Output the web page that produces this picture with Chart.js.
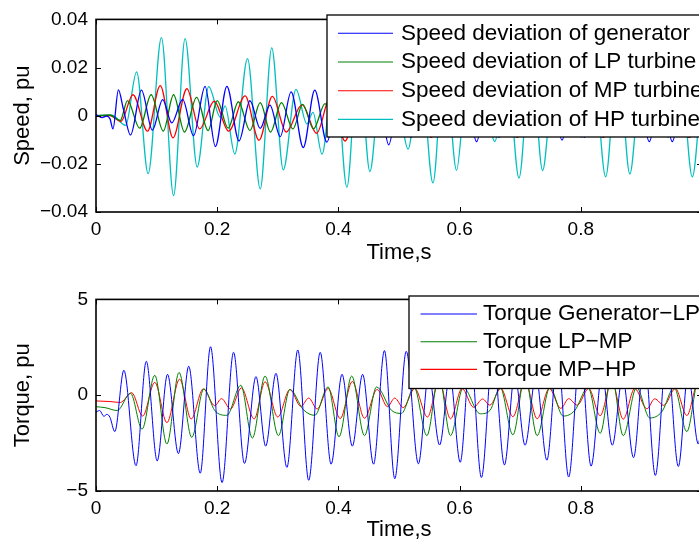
<!DOCTYPE html>
<html>
<head>
<meta charset="utf-8">
<script src="https://cdn.jsdelivr.net/npm/chart.js@4.4.1/dist/chart.umd.min.js"></script>
<style>
  html, body { margin: 0; padding: 0; background: #fff; overflow: hidden; }
  body { width: 699px; height: 544px; position: relative; }
  canvas { position: absolute; left: 0; }
  #speedChart { top: 0; }
  #torqueChart { top: 280px; }
</style>
</head>
<body>
<canvas id="speedChart" width="720" height="272"></canvas>
<canvas id="torqueChart" width="720" height="264"></canvas>
<script>
// Axis ticks (the label at t = 1 falls just outside the cropped figure)
const timeTicks = [0, 0.2, 0.4, 0.6, 0.8, 1];
const timeTickLabels = ['0', '0.2', '0.4', '0.6', '0.8', ''];
const speedTicks = [-0.04, -0.02, 0, 0.02, 0.04];
const speedTickLabels = ['\u22120.04', '\u22120.02', '0', '0.02', '0.04'];
const torqueTicks = [-5, 0, 5];
const torqueTickLabels = ['\u22125', '0', '5'];

const speedNames = ['Speed deviation of generator', 'Speed deviation of LP turbine',
  'Speed deviation of MP turbine', 'Speed deviation of HP turbine'];
const torqueNames = ['Torque Generator\u2212LP', 'Torque LP\u2212MP', 'Torque MP\u2212HP'];

// [time s, pu] - peaks and troughs
const speedGen = [[0,0.0005],[0.010,-0.0008],[0.017,-0.0002],[0.023,-0.0012],[0.028,-0.0055],[0.037,0.0107],
  [0.045,0.003],[0.057,-0.008],[0.075,0.0106],[0.093,-0.006],[0.110,0.0067],[0.125,-0.003],[0.143,0.0068],
  [0.161,-0.0083],[0.180,0.0122],[0.197,-0.0128],[0.216,0.0122],[0.236,-0.0105],[0.254,0.0062],[0.271,-0.0053],
  [0.287,0.0044],[0.304,-0.0087],[0.322,0.0099],[0.342,-0.0132],[0.361,0.0106],[0.381,-0.011],[0.399,0.007],
  [0.416,-0.006],[0.433,0.004],[0.450,-0.007],[0.466,0.009],[0.483,-0.0121],[0.502,0.011],[0.520,-0.009],
  [0.538,0.010],[0.556,-0.006],[0.574,0.005],[0.592,-0.006],[0.611,0.008],[0.628,-0.0108],[0.647,0.011],
  [0.665,-0.009],[0.683,0.010],[0.700,-0.006],[0.718,0.005],[0.735,-0.006],[0.752,0.008],[0.769,-0.0101],
  [0.788,0.011],[0.806,-0.009],[0.825,0.010],[0.843,-0.006],[0.860,0.005],[0.878,-0.007],[0.895,0.009],
  [0.913,-0.0108],[0.932,0.011],[0.951,-0.0108],[0.969,0.010],[0.987,-0.007],[1.0,0.002]];

const speedLP = [[0,0],[0.023,0.0003],[0.040,-0.002],[0.052,0.0063],[0.072,-0.0052],[0.091,0.0087],
  [0.111,-0.0064],[0.128,0.0087],[0.146,-0.0068],[0.166,0.0076],[0.185,-0.0062],[0.200,0.0063],[0.218,-0.0052],
  [0.235,0.0058],[0.254,-0.0062],[0.271,0.0054],[0.288,-0.0068],[0.306,0.0054],[0.325,-0.0055],[0.341,0.0047],
  [0.359,-0.0055],[0.378,0.005],[0.396,-0.006],[0.414,0.006],[0.432,-0.006],[0.450,0.006],[0.469,-0.0065],
  [0.487,0.0055],[0.505,-0.006],[0.523,0.006],[0.541,-0.006],[0.559,0.0065],[0.578,-0.0065],[0.596,0.006],
  [0.614,-0.006],[0.632,0.0055],[0.650,-0.006],[0.668,0.006],[0.686,-0.006],[0.705,0.0065],[0.723,-0.0065],
  [0.741,0.006],[0.759,-0.006],[0.777,0.0055],[0.795,-0.006],[0.814,0.006],[0.832,-0.006],[0.850,0.0065],
  [0.868,-0.0065],[0.886,0.006],[0.904,-0.006],[0.922,0.0055],[0.941,-0.006],[0.959,0.006],[0.977,-0.006],
  [0.995,0.0065],[1.0,0.005]];

const speedMP = [[0,0],[0.023,0],[0.041,-0.0024],[0.061,0.0087],[0.085,-0.0064],[0.106,0.0125],[0.127,-0.0092],
  [0.150,0.0112],[0.171,-0.0055],[0.195,0.006],[0.219,-0.0064],[0.246,0.0082],[0.269,-0.0102],[0.291,0.008],
  [0.314,-0.0068],[0.340,0.0046],[0.364,-0.0073],[0.387,0.008],[0.411,-0.0105],[0.434,0.008],[0.459,-0.007],
  [0.482,0.005],[0.505,-0.006],[0.529,0.008],[0.553,-0.009],[0.576,0.008],[0.600,-0.007],[0.624,0.005],
  [0.647,-0.006],[0.671,0.008],[0.695,-0.009],[0.718,0.008],[0.742,-0.007],[0.766,0.005],[0.789,-0.006],
  [0.813,0.008],[0.837,-0.009],[0.860,0.008],[0.884,-0.007],[0.908,0.005],[0.931,-0.006],[0.955,0.008],
  [0.979,-0.009],[1.0,0.006]];

const speedHP = [[0,0],[0.026,0.0002],[0.049,-0.004],[0.067,0.0182],[0.086,-0.0241],[0.108,0.0324],
  [0.128,-0.0332],[0.147,0.032],[0.167,-0.0213],[0.186,0.0121],[0.205,-0.0006],[0.213,0.0041],[0.229,-0.0159],
  [0.250,0.0237],[0.271,-0.0304],[0.290,0.0282],[0.309,-0.0225],[0.330,0.0109],[0.348,-0.0034],[0.358,0.0014],
  [0.373,-0.016],[0.394,0.024],[0.414,-0.0297],[0.433,0.027],[0.452,-0.0232],[0.469,0.011],[0.484,-0.003],
  [0.499,0.0015],[0.515,-0.0139],[0.535,0.022],[0.556,-0.0279],[0.575,0.026],[0.595,-0.0227],[0.611,0.011],
  [0.627,-0.003],[0.643,0.0015],[0.658,-0.0108],[0.678,0.021],[0.698,-0.0259],[0.718,0.026],[0.737,-0.0228],
  [0.754,0.011],[0.770,-0.003],[0.785,0.0015],[0.801,-0.009],[0.821,0.020],[0.841,-0.0254],[0.861,0.026],
  [0.881,-0.0242],[0.898,0.011],[0.913,-0.003],[0.928,0.0015],[0.944,-0.009],[0.964,0.020],[0.984,-0.0254],
  [1.0,0.015]];

const torqueGenLP = [[0,-0.88],[0.006,-0.8],[0.013,-1.1],[0.018,-1.0],[0.023,-1.15],[0.031,-1.9],[0.046,1.3],
  [0.066,-3.68],[0.083,1.77],[0.101,-3.43],[0.118,1.09],[0.136,-3.05],[0.153,1.51],[0.172,-4.07],[0.189,2.53],
  [0.208,-4.56],[0.227,2.24],[0.245,-3.56],[0.264,0.97],[0.280,-2.66],[0.297,1.14],[0.315,-3.77],[0.333,2.36],
  [0.351,-4.44],[0.370,2.24],[0.388,-3.6],[0.406,1.09],[0.423,-2.66],[0.440,1.09],[0.458,-3.6],[0.476,2.33],
  [0.493,-4.36],[0.512,2.29],[0.532,-3.58],[0.549,1.1],[0.567,-2.6],[0.584,1.05],[0.601,-3.5],[0.618,2.2],
  [0.636,-4.3],[0.655,2.3],[0.674,-3.64],[0.691,1.1],[0.708,-2.61],[0.726,1.0],[0.744,-3.39],[0.762,2.1],
  [0.780,-4.27],[0.799,2.3],[0.817,-3.7],[0.835,1.1],[0.852,-2.61],[0.869,0.95],[0.887,-3.26],[0.905,2.0],
  [0.923,-4.19],[0.942,2.3],[0.961,-3.72],[0.977,1.1],[0.994,-2.55],[1.0,-1.0]];

const torqueLPMP = [[0,-0.6],[0.015,-0.65],[0.035,-0.8],[0.057,0.1],[0.076,-1.77],[0.097,1.04],[0.117,-2.55],
  [0.137,1.19],[0.158,-2.2],[0.178,0.33],[0.196,-0.8],[0.216,-1.05],[0.239,0.52],[0.258,-2.24],[0.279,1.0],
  [0.301,-2.11],[0.320,0.3],[0.342,-0.75],[0.361,-1.05],[0.383,0.43],[0.401,-2.17],[0.422,1.0],[0.443,-2.11],
  [0.463,0.43],[0.488,-0.8],[0.504,-0.95],[0.525,0.4],[0.546,-2.11],[0.566,1.0],[0.585,-2.11],[0.606,0.4],
  [0.634,-0.97],[0.650,-0.8],[0.667,0.4],[0.688,-2.07],[0.708,1.0],[0.728,-2.11],[0.749,0.4],[0.771,-1.09],
  [0.790,-0.8],[0.812,0.4],[0.832,-1.99],[0.851,1.0],[0.870,-2.11],[0.892,0.4],[0.914,-1.19],[0.934,-0.85],
  [0.954,0.4],[0.975,-1.9],[0.995,0.9],[1.0,0.8]];

const torqueMPHP = [[0,-0.3],[0.023,-0.33],[0.040,-0.38],[0.059,0.13],[0.077,-1.09],[0.097,0.67],[0.117,-1.43],
  [0.138,0.84],[0.157,-1.24],[0.177,0.33],[0.196,-0.55],[0.207,-0.18],[0.222,-0.72],[0.240,0.38],[0.261,-1.24],
  [0.279,0.7],[0.300,-1.14],[0.320,0.3],[0.338,-0.58],[0.351,-0.15],[0.365,-0.72],[0.383,0.35],[0.403,-1.22],
  [0.423,0.72],[0.443,-1.2],[0.464,0.3],[0.481,-0.6],[0.493,-0.15],[0.507,-0.65],[0.526,0.35],[0.547,-1.14],
  [0.566,0.75],[0.585,-1.23],[0.604,0.35],[0.623,-0.63],[0.638,-0.2],[0.650,-0.52],[0.668,0.35],[0.688,-1.12],
  [0.708,0.75],[0.728,-1.23],[0.748,0.35],[0.767,-0.69],[0.780,-0.18],[0.794,-0.52],[0.813,0.35],[0.832,-1.07],
  [0.851,0.75],[0.870,-1.25],[0.889,0.35],[0.909,-0.71],[0.922,-0.19],[0.937,-0.53],[0.956,0.35],[0.975,-1.06],
  [0.994,0.7],[1.0,0.6]];

const BLUE = '#0000ff', GREEN = '#008000', RED = '#ff0000', CYAN = '#00bfbf';
const FONT = 'Liberation Sans, Arial, Helvetica, sans-serif';

function labelFor(ticks, labels) {
  return (value) => {
    const i = ticks.findIndex(t => Math.abs(t - value) < 1e-9);
    return i >= 0 ? labels[i] : '';
  };
}

function series(label, points, color, width) {
  return {
    label,
    data: points.map(([t, v]) => ({ x: t, y: v })),
    borderColor: color,
    borderWidth: width,
    pointRadius: 0,
    fill: false,
    cubicInterpolationMode: 'monotone'
  };
}

// MATLAB style box, inward ticks and legend
const matlabBox = {
  id: 'matlabBox',
  afterDatasetsDraw(chart, args, opts) {
    const { ctx, chartArea: a } = chart;
    const xs = chart.scales.x, ys = chart.scales.y;
    ctx.save();
    ctx.strokeStyle = '#000';
    ctx.lineWidth = 1;
    ctx.beginPath();
    opts.xTicks.forEach(v => {
      const px = Math.round(xs.getPixelForValue(v)) + 0.5;
      ctx.moveTo(px, a.bottom); ctx.lineTo(px, a.bottom - 5);
      ctx.moveTo(px, a.top); ctx.lineTo(px, a.top + 5);
    });
    opts.yTicks.forEach(v => {
      const py = Math.round(ys.getPixelForValue(v)) + 0.5;
      ctx.moveTo(a.left, py); ctx.lineTo(a.left + 5, py);
      ctx.moveTo(a.right, py); ctx.lineTo(a.right - 5, py);
    });
    ctx.stroke();
    ctx.lineWidth = 1.6;
    ctx.strokeRect(a.left, a.top, a.right - a.left, a.bottom - a.top);

    // legend
    const lg = opts.legend;
    ctx.fillStyle = '#fff';
    ctx.fillRect(lg.left, lg.top, chart.width - lg.left + 20, lg.height);
    ctx.lineWidth = 1.3;
    ctx.strokeRect(lg.left, lg.top, chart.width - lg.left + 20, lg.height);
    ctx.font = lg.font;
    ctx.textBaseline = 'middle';
    ctx.textAlign = 'left';
    chart.data.datasets.forEach((ds, i) => {
      const y = lg.top + lg.first + i * lg.step;
      ctx.strokeStyle = ds.borderColor;
      ctx.lineWidth = 1.1;
      ctx.beginPath();
      ctx.moveTo(lg.left + lg.lineFrom, y);
      ctx.lineTo(lg.left + lg.lineTo, y);
      ctx.stroke();
      ctx.fillStyle = '#000';
      ctx.fillText(ds.label, lg.left + lg.textX, y);
    });
    ctx.restore();
  }
};

function makeChart(id, datasets, cfg) {
  return new Chart(document.getElementById(id), {
    type: 'line',
    data: { datasets },
    plugins: [matlabBox],
    options: {
      responsive: false,
      animation: false,
      layout: { padding: { top: cfg.top, right: 18, left: 0, bottom: 0 } },
      plugins: {
        legend: { display: false },
        tooltip: { enabled: false },
        matlabBox: { xTicks: timeTicks, yTicks: cfg.yTicks, legend: cfg.legend }
      },
      scales: {
        x: {
          type: 'linear', min: 0, max: 1,
          afterFit: s => { s.height = cfg.xHeight; },
          grid: { display: false, drawTicks: false },
          border: { display: false },
          ticks: {
            stepSize: 0.2, autoSkip: false, maxRotation: 0, padding: 6,
            color: '#000', font: { family: FONT, size: 19 },
            callback: labelFor(timeTicks, timeTickLabels)
          },
          title: {
            display: true, text: 'Time,s', color: '#000',
            font: { family: FONT, size: 22 }, padding: { top: 0, bottom: cfg.xTitlePad }
          }
        },
        y: {
          type: 'linear', min: cfg.yTicks[0], max: cfg.yTicks[cfg.yTicks.length - 1],
          afterFit: s => { s.width = 96; },
          grid: { display: false, drawTicks: false },
          border: { display: false },
          ticks: {
            stepSize: cfg.yTicks[1] - cfg.yTicks[0], autoSkip: false, padding: 8,
            color: '#000', font: { family: FONT, size: 19 },
            callback: labelFor(cfg.yTicks, cfg.yTickLabels)
          },
          title: {
            display: true, text: cfg.yTitle, color: '#000',
            font: { family: FONT, size: 22 }, padding: { top: 10, bottom: 0 }
          }
        }
      }
    }
  });
}

makeChart('speedChart', [
  series(speedNames[0], speedGen, BLUE, 1.3),
  series(speedNames[1], speedLP, GREEN, 1.3),
  series(speedNames[2], speedMP, RED, 1.3),
  series(speedNames[3], speedHP, CYAN, 1.3)
], {
  top: 15, xHeight: 60, xTitlePad: 6,
  yTicks: speedTicks, yTickLabels: speedTickLabels, yTitle: 'Speed, pu',
  legend: { left: 327, top: 15, height: 122, first: 18.3, step: 28.7,
    lineFrom: 11, lineTo: 66, textX: 74, font: '22.5px ' + FONT }
});

makeChart('torqueChart', [
  series(torqueNames[0], torqueGenLP, BLUE, 1),
  series(torqueNames[1], torqueLPMP, GREEN, 1),
  series(torqueNames[2], torqueMPHP, RED, 1)
], {
  top: 14, xHeight: 53, xTitlePad: 1,
  yTicks: torqueTicks, yTickLabels: torqueTickLabels, yTitle: 'Torque, pu',
  legend: { left: 409, top: 16, height: 92.5, first: 18, step: 27.7,
    lineFrom: 11.5, lineTo: 68, textX: 74, font: '22.5px ' + FONT }
});
</script>
</body>
</html>
